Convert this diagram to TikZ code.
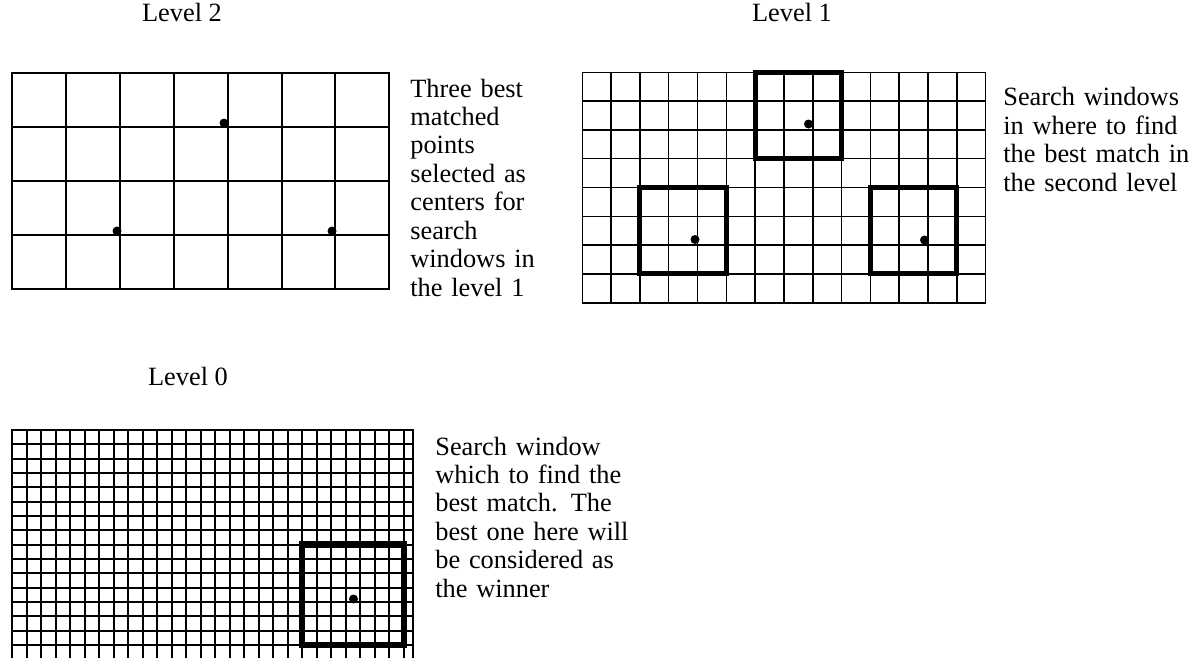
\documentclass[tikz,border=0pt]{standalone}
\usepackage{fontspec}
\setmainfont{Liberation Serif}

\tikzset{
	gridline/.style={line width=1.1pt, line cap=rect},
	fineline/.style={line width=0.9pt, line cap=rect},
	window/.style={line width=2.9pt, line cap=rect},
	bestpt/.style={circle, fill=black, inner sep=0pt, minimum size=0.18cm},
	lvl/.style={anchor=base, inner sep=0pt, font=\fontsize{15}{16.2}\selectfont},
	note/.style={anchor=base west, inner sep=0pt, align=left, font=\fontsize{15}{16.2}\selectfont}
}

\begin{document}
\begin{tikzpicture}[x=0.02cm, y=-0.02cm]

		\useasboundingbox (0,0) rectangle (1200,657);
		\clip (0,0) rectangle (1200,657);

		% Justified line of a note
		\def\fillline#1{\makebox[\hsize][s]{#1}}

		% Grid origins and cell sizes (pixels)
		\def\xa{12.3}  \def\ya{73.3}  \def\cwa{53.86} \def\cha{54}
		\def\xb{582.3} \def\yb{72.3}  \def\cb{28.8}
		\def\xc{12.3}  \def\yc{430}   \def\cwc{14.5}  \def\chc{14.33}

		% --- Level 2 ---
		\node[lvl] (lab2) at (182,21) {Level 2};
		\foreach \i in {0,...,7}
			\draw[gridline] ({\xa+\i*\cwa},\ya) -- ({\xa+\i*\cwa},{\ya+4*\cha});
		\foreach \j in {0,...,4}
			\draw[gridline] (\xa,{\ya+\j*\cha}) -- ({\xa+7*\cwa},{\ya+\j*\cha});
		\node[bestpt] (p2a) at (224,123) {};
		\node[bestpt] (p2b) at (117,231) {};
		\node[bestpt] (p2c) at (332,231) {};

		\node[note, text width=2.48cm] (txt2) at (410,97)
			{\fillline{Three best}\\ matched\\ points\\ \fillline{selected as}\\
			 \fillline{centers for}\\ search\\ \fillline{windows in}\\ the level 1};

		% --- Level 1 ---
		\node[lvl] (lab1) at (792,21) {Level 1};
		\foreach \i in {0,...,14}
			\draw[fineline] ({\xb+\i*\cb},\yb) -- ({\xb+\i*\cb},{\yb+8*\cb});
		\foreach \j in {0,...,8}
			\draw[fineline] (\xb,{\yb+\j*\cb}) -- ({\xb+14*\cb},{\yb+\j*\cb});
		% search windows
		\draw[window] ({\xb+6*\cb},\yb) rectangle ({\xb+9*\cb},{\yb+3*\cb});
		\draw[window] ({\xb+2*\cb},{\yb+4*\cb}) rectangle ({\xb+5*\cb},{\yb+7*\cb});
		\draw[window] ({\xb+10*\cb},{\yb+4*\cb}) rectangle ({\xb+13*\cb},{\yb+7*\cb});
		\node[bestpt] (p1a) at (808.5,124) {};
		\node[bestpt] (p1b) at (695,239.5) {};
		\node[bestpt] (p1c) at (924.5,240) {};

		\node[note, text width=3.64cm] (txt1) at (1003,105.7)
			{\fillline{Search windows}\\ \fillline{in where to find}\\
			 \fillline{the best match in}\\ the second level};

		% --- Level 0 ---
		\node[lvl] (lab0) at (188,385) {Level 0};
		\foreach \i in {0,...,27}
			\draw[gridline] ({\xc+\i*\cwc},\yc) -- ({\xc+\i*\cwc},{\yc+16*\chc});
		\draw[gridline] (413.3,\yc) -- (413.3,{\yc+16*\chc});
		\foreach \j in {0,...,16}
			\draw[gridline] (\xc,{\yc+\j*\chc}) -- (413.3,{\yc+\j*\chc});
		\draw[window, line width=3.6pt] ({\xc+20*\cwc},{\yc+8*\chc}) rectangle ({\xc+27*\cwc},{\yc+15*\chc});
		\node[bestpt] (p0a) at (353.5,599) {};

		\node[note, text width=3.76cm] (txt0) at (435,455)
			{\fillline{Search window}\\ \fillline{which to find the}\\
			 \fillline{best match. The}\\ \fillline{best one here will}\\
			 \fillline{be considered as}\\ the winner};

	\end{tikzpicture}
\end{document}
